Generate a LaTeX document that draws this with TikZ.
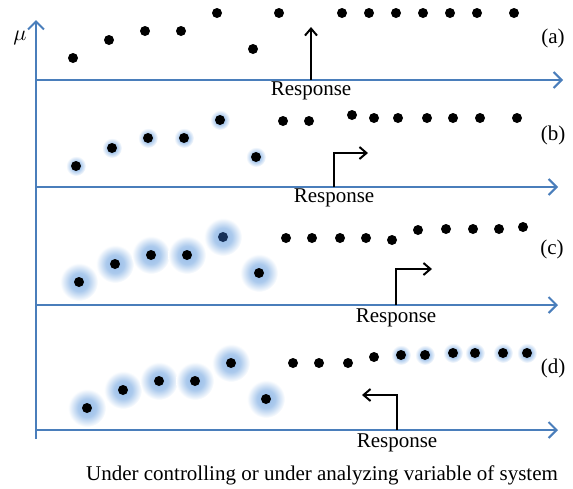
\documentclass[tikz,border=0pt]{standalone}
\usepackage{fontspec}
\setmainfont{Liberation Serif}
\usetikzlibrary{arrows.meta}
\definecolor{axisblue}{RGB}{74,126,187}
\definecolor{glowblue}{RGB}{150,188,232}
\definecolor{navy}{RGB}{22,48,88}
% soft halo round a point (25bp = edge of the shaded circle)
\pgfdeclareradialshading{glow}{\pgfpoint{0bp}{0bp}}{color(0bp)=(glowblue); color(12bp)=(glowblue!80!white); color(25bp)=(white); color(50bp)=(white)}
\tikzset{
  axis/.style={axisblue,line width=1pt,-{Straight Barb[length=4pt,width=8pt]}},
  jump/.style={black,line width=1pt,-{Straight Barb[length=3.5pt,width=6pt]}},
  lab/.style={font=\fontsize{10.5}{12}\selectfont,inner sep=0pt},
}
\begin{document}
\begin{tikzpicture}[x=0.5pt,y=-0.5pt]
\useasboundingbox (0,0) rectangle (573,488);
% axes
\coordinate (o) at (36,439);
\coordinate (top) at (36,20);
\draw[axis] (o) -- (top);
\node[lab] (mu) at (20,38) {$\mu$};
\foreach \name/\yy/\xe in {a/80/563,b/187/558,c/305/558,d/430/558} {
  \coordinate (\name0) at (36,\yy);
  \coordinate (\name1) at (\xe,\yy);
  \draw[axis] (\name0) -- (\name1);
}
% halos
\foreach \px/\py in {76/166,112/148,148/138,184/138,220/120,256/157,
                     401/355,425/355,453/353,475/353,503/353,527/353}
  \shade[shading=glow] (\px,\py) circle[radius=5pt];
\foreach \px/\py in {79/282,115/264,151/255,187/255,223/237,259/273,
                     87/408,123/390,159/381,195/381,231/363,266/399}
  \shade[shading=glow] (\px,\py) circle[radius=9.5pt];
% points
\foreach \px/\py in {73/58,109/40,145/31,181/31,217/13,253/49,279/13,342/13,
                     369/13,396/13,423/13,450/13,477/13,514/13,
                     76/166,112/148,148/138,184/138,220/120,256/157,283/121,
                     309/121,352/115,374/118,398/118,427/118,453/118,480/118,517/118,
                     79/282,115/264,151/255,187/255,259/273,286/238,312/238,
                     340/238,366/238,392/240,418/230,446/229,473/229,499/229,523/227,
                     87/408,123/390,159/381,195/381,231/363,266/399,293/363,319/363,
                     348/363,374/357,401/355,425/355,453/353,475/353,503/353,527/353}
  \fill (\px,\py) circle[radius=2.5pt];
\fill[navy] (223,237) circle[radius=2.5pt];
% response shifts
\coordinate (sa0) at (311,80);  \coordinate (sa1) at (311,27);
\coordinate (sb0) at (334,187); \coordinate (sb1) at (368,153);
\coordinate (sc0) at (396,305); \coordinate (sc1) at (432,269);
\coordinate (sd0) at (397,430); \coordinate (sd1) at (362,395);
\draw[jump] (sa0) -- (sa1);
\draw[jump] (sb0) |- (sb1);
\draw[jump] (sc0) |- (sc1);
\draw[jump] (sd0) |- (sd1);
\node[lab] (ra) at (311,91) {Response};
\node[lab] (rb) at (334,198) {Response};
\node[lab] (rc) at (396,318) {Response};
\node[lab] (rd) at (397,443) {Response};
% panel tags
\node[lab] (ta) at (553,38) {(a)};
\node[lab] (tb) at (553,135) {(b)};
\node[lab] (tc) at (552,249) {(c)};
\node[lab] (td) at (553,368) {(d)};
\node[lab] (xlab) at (322,475) {Under controlling or under analyzing variable of system};
\end{tikzpicture}
\end{document}
